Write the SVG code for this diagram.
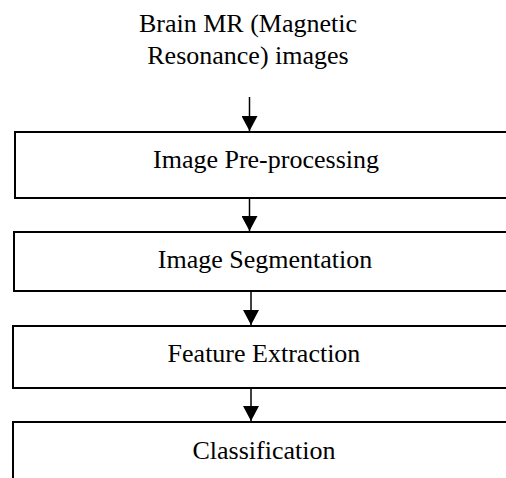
<svg xmlns="http://www.w3.org/2000/svg" width="506" height="478" viewBox="0 0 506 478">
<defs>
<style>
.box{fill:#fff;stroke:#000;stroke-width:2}
.t{font-family:"Liberation Serif","Times New Roman",serif;font-size:26px;fill:#000;text-anchor:middle}
.c{stroke:#000;stroke-width:1.5;fill:none}
</style>
<marker id="ah" markerUnits="userSpaceOnUse" markerWidth="16" markerHeight="16" viewBox="0 0 16 16" refX="15" refY="8" orient="auto">
<path d="M0,0 L15,8 L0,16 Z" fill="#000"/>
</marker>
</defs>
<rect width="506" height="478" fill="#fff"/>
<g id="title">
<text class="t" x="248" y="31.5">Brain MR (Magnetic</text>
<text class="t" x="248" y="64">Resonance) images</text>
</g>
<g id="n1">
<rect class="box" x="15" y="132" width="520" height="66"/>
<text class="t" x="266" y="168">Image Pre-processing</text>
</g>
<g id="n2">
<rect class="box" x="14" y="232" width="520" height="59"/>
<text class="t" x="265" y="268">Image Segmentation</text>
</g>
<g id="n3">
<rect class="box" x="13" y="326" width="520" height="62"/>
<text class="t" x="264" y="361.5">Feature Extraction</text>
</g>
<g id="n4">
<rect class="box" x="13" y="422" width="520" height="80"/>
<text class="t" x="264" y="459">Classification</text>
</g>
<g id="connectors">
<line class="c" x1="249.5" y1="97" x2="249.5" y2="131" marker-end="url(#ah)"/>
<line class="c" x1="249.5" y1="199" x2="249.5" y2="231" marker-end="url(#ah)"/>
<line class="c" x1="251" y1="292" x2="251" y2="325" marker-end="url(#ah)"/>
<line class="c" x1="251" y1="389" x2="251" y2="421" marker-end="url(#ah)"/>
</g>
</svg>
